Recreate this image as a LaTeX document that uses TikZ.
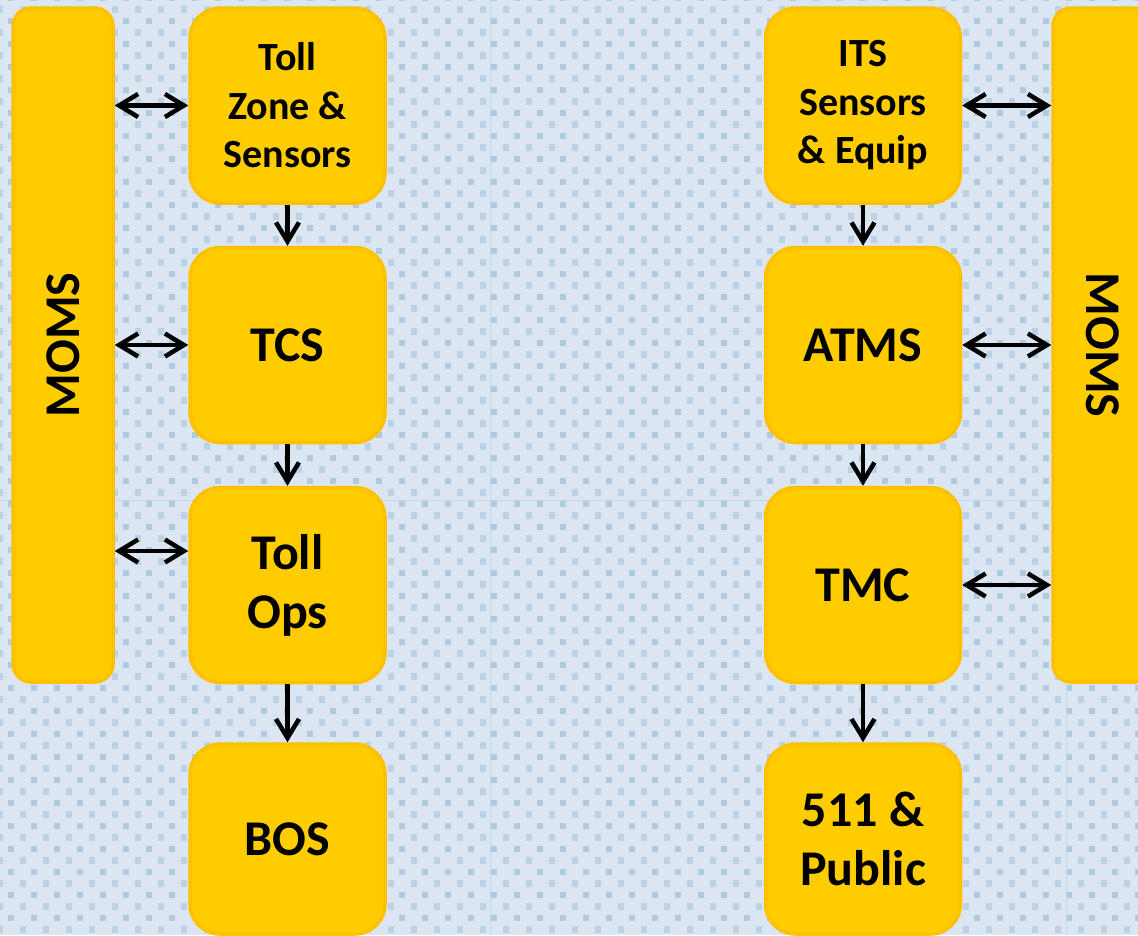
\documentclass[tikz,border=0pt]{standalone}
\usepackage{fontspec}
\setmainfont{Carlito}
\usetikzlibrary{arrows.meta}

\definecolor{bgblue}{HTML}{DCE6F2}
\definecolor{dotblue}{HTML}{B0CBE0}
\definecolor{dotpale}{HTML}{BBD2E6}
\definecolor{seamblue}{HTML}{C4D6EA}
\definecolor{boxfill}{HTML}{FFCC00}
\definecolor{boxline}{HTML}{FFC000}

\begin{document}
\begin{tikzpicture}[x=1pt,y=-1pt,
  block/.style={draw=boxline,fill=boxfill,line width=3.5pt,rounded corners=30pt,
    minimum width=195pt,minimum height=195pt,inner sep=0pt,align=center,
    font=\bfseries\fontsize{40}{48.5}\selectfont},
  bigblock/.style={block,font=\bfseries\fontsize{50}{59}\selectfont},
  momsbar/.style={draw=boxline,fill=boxfill,line width=3.5pt,rounded corners=18pt,
    minimum width=100pt,minimum height=674pt,inner sep=0pt},
  momstext/.style={font=\bfseries\fontsize{50}{60}\selectfont,inner sep=0pt},
  arr/.style={-{Straight Barb[length=19pt,width=23pt]},line width=4.5pt},
  dblarr/.style={{Straight Barb[length=19pt,width=23pt]}-{Straight Barb[length=19pt,width=23pt]},line width=4.5pt}]
\useasboundingbox (0,0) rectangle (1138,935);
\clip (0,0) rectangle (1138,935);
% background
\fill[bgblue] (0,0) rectangle (1138,935);
\foreach \i in {0,...,50}
  \foreach \j in {0,...,41} {
    \fill[dotblue] (\i*23+7.7,\j*23-5.3) rectangle ++(6.4,6.4);
    \fill[dotpale] (\i*23-3.3,\j*23+6.2) rectangle ++(6.4,6.4);
  }
\draw[seamblue,line width=1pt] (490,0) -- (490,935);
\draw[seamblue,line width=1pt] (1066,0) -- (1066,935);
\draw[seamblue,line width=1pt] (0,500) -- (1138,500);

% MOMS bars
\node[momsbar] (momsL) at (63,345) {};
\node[momstext,rotate=90] (momsLtext) at (momsL) {MOMS};
\node[momsbar] (momsR) at (1103,345) {};
\node[momstext,rotate=-90] (momsRtext) at (momsR) {MOMS};

% toll side
\node[block] (tollzone) at (287.5,105.5) {Toll\\Zone \&\\Sensors};
\node[bigblock] (tcs) at (287.5,345) {TCS};
\node[bigblock] (tollops) at (287.5,585) {Toll\\Ops};
\node[bigblock,minimum height=190pt] (bos) at (287.5,839) {BOS};

% ITS side
\node[block] (its) at (863,105.5) {ITS\\Sensors\\\& Equip};
\node[bigblock] (atms) at (863,345) {ATMS};
\node[bigblock] (tmc) at (863,585) {TMC};
\node[bigblock,minimum height=190pt] (public) at (863,839) {511 \&\\Public};

% flow
\draw[arr] (tollzone) -- (tcs);
\draw[arr] (tcs) -- (tollops);
\draw[arr] (tollops) -- (bos);
\draw[arr] (its) -- (atms);
\draw[arr] (atms) -- (tmc);
\draw[arr] (tmc) -- (public);

% links to MOMS
\draw[dblarr] (momsL.east |- tollzone.west) -- (tollzone.west);
\draw[dblarr] (momsL.east |- tcs.west) -- (tcs.west);
\draw[dblarr] ([yshift=34pt]momsL.east |- tollops.west) -- ([yshift=34pt]tollops.west);
\draw[dblarr] (its.east) -- (momsR.west |- its.east);
\draw[dblarr] (atms.east) -- (momsR.west |- atms.east);
\draw[dblarr] (tmc.east) -- (momsR.west |- tmc.east);
\end{tikzpicture}
\end{document}
